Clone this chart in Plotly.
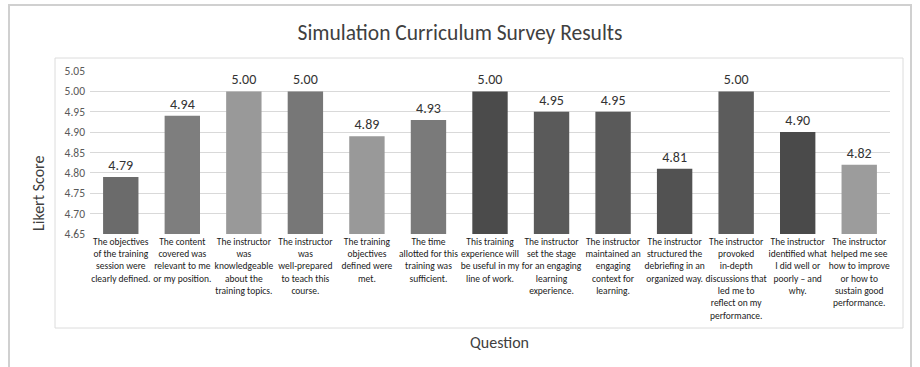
import plotly.graph_objects as go

categories = [
    "The objectives<br>of the training<br>session were<br>clearly defined.",
    "The content<br>covered was<br>relevant to me<br>or my position.",
    "The instructor<br>was<br>knowledgeable<br>about the<br>training topics.",
    "The instructor<br>was<br>well-prepared<br>to teach this<br>course.",
    "The training<br>objectives<br>defined were<br>met.",
    "The time<br>allotted for this<br>training was<br>sufficient.",
    "This training<br>experience will<br>be useful in my<br>line of work.",
    "The instructor<br>set the stage<br>for an engaging<br>learning<br>experience.",
    "The instructor<br>maintained an<br>engaging<br>context for<br>learning.",
    "The instructor<br>structured the<br>debriefing in an<br>organized way.",
    "The instructor<br>provoked<br>in-depth<br>discussions that<br>led me to<br>reflect on my<br>performance.",
    "The instructor<br>identified what<br>I did well or<br>poorly – and<br>why.",
    "The instructor<br>helped me see<br>how to improve<br>or how to<br>sustain good<br>performance.",
]
scores = [4.79, 4.94, 5.00, 5.00, 4.89, 4.93, 5.00, 4.95, 4.95, 4.81, 5.00, 4.90, 4.82]
bar_colors = ["#6b6b6b", "#7e7e7e", "#999999", "#777777", "#999999", "#7a7a7a", "#4b4b4b",
              "#5a5a5a", "#5a5a5a", "#525252", "#5c5c5c", "#4a4a4a", "#9c9c9c"]
y_ticks = [4.65, 4.70, 4.75, 4.80, 4.85, 4.90, 4.95, 5.00, 5.05]

W, H = 920, 367
L, R, T, B = 90, 30, 71, 133
FONT = "Carlito, Lato, sans-serif"


def px(x):
    return (x - L) / (W - L - R)


def py(y):
    return (H - B - y) / (H - T - B)


fig = go.Figure(go.Bar(
    x=list(range(len(scores))),
    y=scores,
    marker=dict(color=bar_colors, line=dict(width=0)),
    width=0.575,
    texttemplate="%{y:.2f}",
    textposition="outside",
    textfont=dict(family=FONT, size=14, color="#333333"),
    cliponaxis=False,
))

fig.update_layout(
    width=W, height=H,
    margin=dict(l=L, r=R, t=T, b=B),
    paper_bgcolor="white", plot_bgcolor="white",
    showlegend=False,
    font=dict(family=FONT),
    title=dict(text="Simulation Curriculum Survey Results", x=0.5, xanchor="center",
               y=1 - 32 / H, yanchor="middle",
               font=dict(family=FONT, size=21.5, color="#404040")),
    xaxis=dict(tickmode="array", tickvals=list(range(len(scores))), ticktext=categories,
               tickangle=0, tickfont=dict(family=FONT, size=9.5, color="#1a1a1a"),
               showgrid=False, zeroline=False, showline=False, ticks="",
               range=[-0.5, len(scores) - 0.5]),
    yaxis=dict(range=[4.65, 5.05], tickvals=y_ticks, tickformat=".2f",
               tickfont=dict(family=FONT, size=11.5, color="#595959"),
               showgrid=True, gridcolor="#d9d9d9", gridwidth=1, zeroline=False,
               showline=False, ticks="", ticklabelstandoff=4),
    annotations=[
        dict(text="Likert Score", xref="paper", yref="paper", x=px(38), y=py(194),
             textangle=-90, showarrow=False, xanchor="center", yanchor="middle",
             font=dict(family=FONT, size=16, color="#404040")),
        dict(text="Question", xref="paper", yref="paper", x=px(499), y=py(342),
             showarrow=False, xanchor="center", yanchor="middle",
             font=dict(family=FONT, size=16, color="#404040")),
    ],
    shapes=[
        dict(type="rect", xref="paper", yref="paper", x0=px(55), x1=px(903), y0=py(328), y1=py(58),
             line=dict(color="#dcdcdc", width=1), layer="below"),
        dict(type="rect", xref="paper", yref="paper", x0=px(9), x1=px(911), y0=py(420), y1=py(5),
             line=dict(color="#d0d0d0", width=2), layer="below"),
    ],
)

fig.write_html("out.html")
